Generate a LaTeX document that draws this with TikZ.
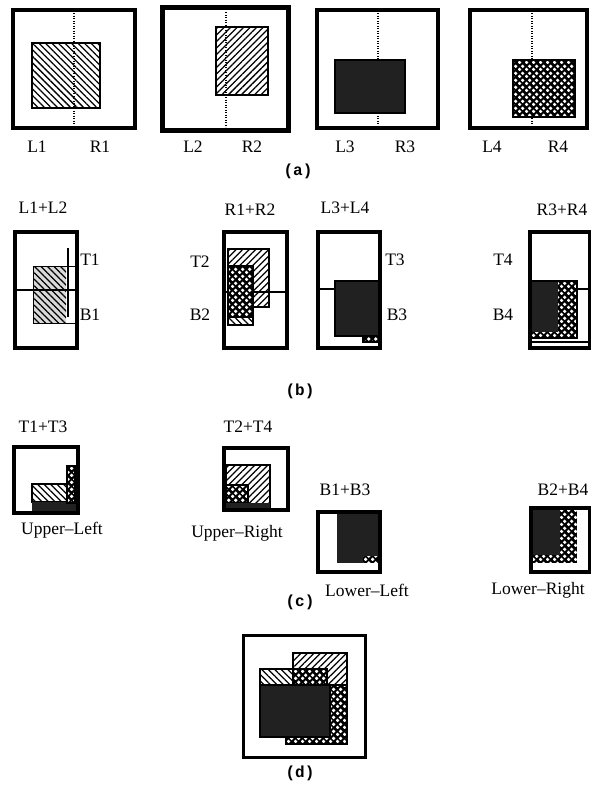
\documentclass[tikz,border=0pt]{standalone}
\usepackage{fontspec}
\setmainfont{Liberation Serif}
\setmonofont{Liberation Mono}
\usetikzlibrary{patterns,patterns.meta}
\tikzdeclarepattern{name=wdots,type=uncolored,bounding box={(0,0) and (7pt,7pt)},tile size={(7pt,7pt)},
  code={\pgfpathcircle{\pgfpoint{1.75pt}{1.75pt}}{2.05pt}\pgfpathcircle{\pgfpoint{5.25pt}{5.25pt}}{2.05pt}\pgfusepath{fill}}}
\tikzset{
  frame/.style={draw=black,line width=3.5pt},
  hatchbk/.style={pattern={Lines[angle=-45,distance=4.6pt,line width=1.25pt]}},
  hatchfw/.style={pattern={Lines[angle=45,distance=4.6pt,line width=1.25pt]}},
  darkfill/.style={fill=black!87},
  chk/.style={preaction={fill=black},pattern=wdots,pattern color=white},
  edge/.style={draw=black,line width=1.5pt},
  split/.style={draw=black,line width=1.8pt,dash pattern=on 1.4pt off 1.1pt},
  hline/.style={draw=black,line width=1.2pt},
  lbl/.style={font=\fontsize{17.5}{20}\selectfont,inner sep=0pt},
  figcap/.style={font=\ttfamily\bfseries\fontsize{16}{18}\selectfont,inner sep=0pt}
}
\begin{document}
\begin{tikzpicture}[x=1pt,y=-1pt]
\useasboundingbox (0,0) rectangle (592,785);
% ---------- (a) ----------
% panel 1
\draw[frame] (13,10) rectangle (135,128);
\path[hatchbk,edge] (32,43) rectangle (100,108);
\draw[split] (74,13) -- (74,127);
% panel 2
\draw[frame,line width=5pt] (162,7) rectangle (288,130);
\path[hatchfw,edge] (216,27) rectangle (268,95);
\draw[split] (226,12) -- (226,127);
% panel 3
\draw[frame] (317,10) rectangle (438,128);
\draw[split] (378,13) -- (378,126);
\path[darkfill,edge] (335,60) rectangle (405,113);
% panel 4
\draw[frame] (470,10) rectangle (587,128);
\draw[split] (532,13) -- (532,127);
\path[chk,edge] (513,60) rectangle (575,117);
\node[lbl] (l1) at (37,147) {L1};
\node[lbl] (r1) at (100,147) {R1};
\node[lbl] (l2) at (193,147) {L2};
\node[lbl] (r2) at (252,147) {R2};
\node[lbl] (l3) at (345,147) {L3};
\node[lbl] (r3) at (405,147) {R3};
\node[lbl] (l4) at (492,147) {L4};
\node[lbl] (r4) at (558,147) {R4};
\node[figcap] (capa) at (298,171) {(a)};
% ---------- (b) ----------
\node[lbl] (l12) at (43,208) {L1+L2};
\node[lbl] (r12) at (250,210) {R1+R2};
\node[lbl] (l34) at (345,208) {L3+L4};
\node[lbl] (r34) at (562,210) {R3+R4};
% b1
\path[fill=gray!30] (33,266) rectangle (66,323);
\path[hatchbk] (33,266) rectangle (66,323);
\draw[black,line width=1pt] (33,266) rectangle (75,323);
\draw[hline] (15,290) -- (77,290);
\draw[black,line width=2.5pt] (68,248) -- (68,317);
\draw[frame] (15,232) rectangle (77,348);
\node[lbl] (t1) at (90,260) {T1};
\node[lbl] (b1) at (90,315) {B1};
% b2
\draw[hline] (224,292) -- (287,292);
\path[hatchfw,edge] (228,249) rectangle (269,307);
\path[hatchbk,edge] (228,266) rectangle (253,325);
\path[chk,edge] (228,266) rectangle (253,317);
\draw[frame] (224,232) rectangle (287,348);
\node[lbl] (t2) at (200,262) {T2};
\node[lbl] (b2) at (200,315) {B2};
% b3
\draw[hline] (318,289) -- (335,289);
\path[chk,edge] (363,330) rectangle (380,342);
\path[darkfill,edge] (335,281) rectangle (380,336);
\draw[frame] (318,232) rectangle (380,348);
\node[lbl] (t3) at (395,260) {T3};
\node[lbl] (b3) at (397,315) {B3};
% b4
\draw[hline] (577,289) -- (589.5,289);
\draw[hline] (531,342) -- (589.5,342);
\path[chk] (531,281) rectangle (577,338);
\path[darkfill] (531,281) rectangle (558,332);
\draw[black,line width=2pt] (531,281) rectangle (577,338);
\draw[frame] (530,232) rectangle (589.5,348);
\node[lbl] (t4) at (503,260) {T4};
\node[lbl] (b4) at (503,315) {B4};
\node[figcap] (capb) at (300,391) {(b)};
% ---------- (c) ----------
\node[lbl] (t13) at (43,427) {T1+T3};
\path[hatchbk,edge] (32,484) rectangle (67,502);
\path[darkfill] (32,502) rectangle (76,512);
\path[chk,edge] (67,466) rectangle (75,503);
\draw[frame] (14,447) rectangle (78,513);
\node[lbl] (ul) at (62,530) {Upper--Left};
\node[lbl] (t24) at (248,427) {T2+T4};
\path[hatchfw,edge] (226,465) rectangle (270,510);
\path[chk,edge] (226,485) rectangle (248,503);
\path[darkfill] (226,503) rectangle (270,509);
\draw[frame] (224,448) rectangle (288,510);
\node[lbl] (ur) at (237,533) {Upper--Right};
\node[lbl] (b13) at (345,490) {B1+B3};
\path[darkfill] (337,510) rectangle (380,563);
\path[chk] (363,556) rectangle (380,563);
\draw[frame] (318,512) rectangle (380,572);
\node[lbl] (ll) at (367,590) {Lower--Left};
\node[lbl] (b24) at (563,490) {B2+B4};
\path[chk] (533,510) rectangle (577,563);
\path[darkfill] (533,510) rectangle (560,555);
\draw[frame] (531,508) rectangle (589.5,572);
\node[lbl] (lr) at (538,590) {Lower--Right};
\node[figcap] (capc) at (300,602) {(c)};
% ---------- (d) ----------
\path[hatchbk,edge] (260,669) rectangle (297,685);
\path[hatchfw,edge] (293,653) rectangle (347,685);
\path[chk,edge] (293,669) rectangle (327,685);
\path[chk,edge] (286,685) rectangle (347,744);
\path[darkfill,edge] (260,685) rectangle (330,737);
\draw[frame,line width=3pt] (243,635) rectangle (365,757);
\node[figcap] (capd) at (300,773) {(d)};
\end{tikzpicture}
\end{document}
